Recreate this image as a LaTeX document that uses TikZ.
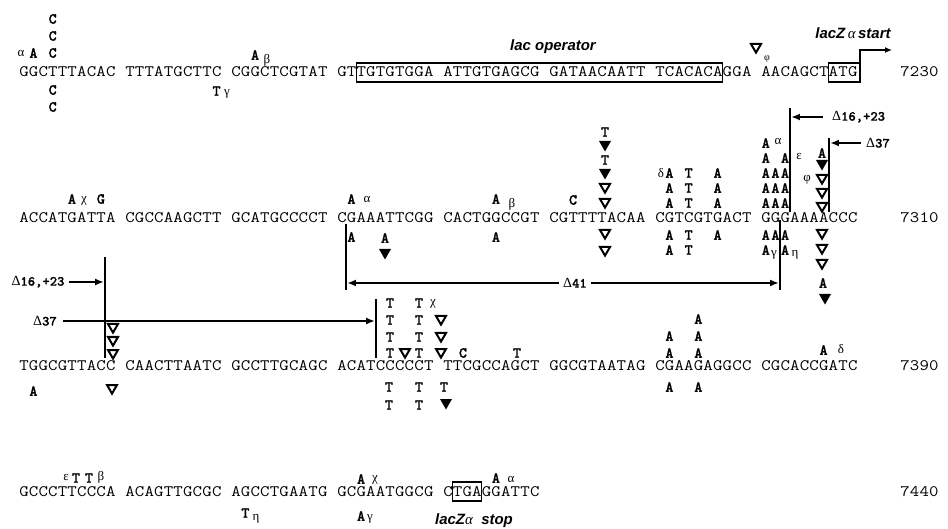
\documentclass[tikz,border=0pt]{standalone}
\usepackage{fontspec}
\usepackage{graphicx}
\setmainfont{Liberation Serif}
\newfontfamily\labf{Liberation Sans}
\newfontface\mutf{lmmonolt10-bold.otf}[FakeBold=1]
\usetikzlibrary{arrows.meta}
\newcounter{mk}
% fixed character grid for the sequences
\newlength\cw \setlength\cw{9.636bp}
\def\gcA#1{\ifx#1\relax\else\gcB{#1}\expandafter\gcA\fi}
\def\gcB#1{\if#1/\hspace*{\cw}\else\makebox[\cw][c]{\scalebox{1.15}[1]{#1}}\fi}
\newcommand\sq[1]{\gcA#1\relax}
\tikzset{
  seq/.style={font=\ttfamily\fontsize{16pt}{18pt}\selectfont, inner sep=0pt, anchor=base west},
  mut/.style={font=\mutf\fontsize{15.5pt}{17pt}\selectfont, inner sep=0pt},
  grk/.style={font=\fontsize{13pt}{15pt}\selectfont, inner sep=0pt},
  lab/.style={font=\labf\bfseries\itshape\fontsize{15pt}{17pt}\selectfont, inner sep=0pt},
  dlab/.style={font=\fontsize{14pt}{16pt}\selectfont, inner sep=0pt},
  otri/.style={draw=black, fill=white, line width=2bp, line join=miter},
  ftri/.style={fill=black},
  bar/.style={line width=1.8bp},
  arr/.style={line width=1.8bp, -{Latex[length=9pt,width=7pt]}},
  box/.style={line width=1.5bp},
}
\newcommand\Mx[3]{\stepcounter{mk}\node[mut] (m\arabic{mk}) at ({#1},{#2}) {#3};}
\newcommand\Mc[3]{\stepcounter{mk}\node[mut] (m\arabic{mk}) at ({23.8+9.636*(#1)},{#2}) {#3};}
\newcommand\Gk[3]{\stepcounter{mk}\node[grk] (g\arabic{mk}) at ({#1},{#2}) {#3};}
\newcommand\ot[2]{\draw[otri] ({#1-5},{#2-4}) -- ({#1+5},{#2-4}) -- ({#1},{#2+4.6}) -- cycle;}
\newcommand\ft[2]{\fill[ftri] ({#1-6},{#2-5}) -- ({#1+6},{#2-5}) -- ({#1},{#2+5.5}) -- cycle;}
\begin{document}
\begin{tikzpicture}[x=1bp,y=-1bp]
\useasboundingbox (0,0) rectangle (948,529);

% ---------------- line 1 ----------------
\node[seq] (L1) at (19,77) {\sq{GGCTTTACAC/TTTATGCTTC/CGGCTCGTAT/GTTGTGTGGA/ATTGTGAGCG/GATAACAATT/TCACACAGGA/AACAGCTATG}};
\node[seq] (N1) at (900,77) {\sq{7230}};
\Mc{3}{19}{C} \Mc{3}{36}{C} \Mc{3}{53}{C}
\Mc{1}{53}{A} \Gk{21}{54}{α}
\Mc{3}{90}{C} \Mc{3}{107}{C}
\Mc{24}{55}{A} \Gk{267}{60}{β}
\Mc{20}{91}{T} \Gk{227}{94}{γ}
\ot{756}{48} \node[grk,font=\fontsize{10pt}{12pt}\selectfont] (phi1) at (767,59) {φ};
\draw[box] (356.3,63) rectangle (722.4,82);
\node[lab] (op) at (553,47) {lac operator};
\draw[box] (828.4,63) rectangle (860,82);
\coordinate (st) at (892,50);
\draw[line width=1.2bp, -{Latex[length=7pt,width=6pt]}] (860,63) |- (st);
\node[lab] (zs) at (853,33) {lacZ\,{\normalfont\itshape α}\,start};

% ---------------- line 2 ----------------
\node[seq] (L2) at (19,223) {\sq{ACCATGATTA/CGCCAAGCTT/GCATGCCCCT/CGAAATTCGG/CACTGGCCGT/CGTTTTACAA/CGTCGTGACT/GGGAAAACCC}};
\node[seq] (N2) at (900,223) {\sq{7310}};
\Mc{5}{199}{A} \Gk{84}{201}{χ}
\Mc{8}{199}{G}
\Mc{34}{199}{A} \Gk{367}{200}{α}
\Mc{34}{237}{A}
\Mx{385}{238}{A} \ft{385}{254}
\Mc{49}{199}{A} \Gk{512}{204}{β}
\Mc{49}{237}{A}
\Mc{57}{200}{C}
\Mx{605}{132}{T} \ft{605}{146} \Mx{605}{160}{T} \ft{605}{174}
\ot{605}{188} \ot{605}{203} \ot{605}{234} \ot{605}{251}
% CGTCGTGACT
\Gk{661}{173}{δ}
\Mc{67}{173}{A} \Mc{69}{173}{T} \Mc{72}{173}{A}
\Mc{67}{188}{A} \Mc{69}{188}{T} \Mc{72}{188}{A}
\Mc{67}{203}{A} \Mc{69}{203}{T} \Mc{72}{203}{A}
\Mc{67}{235}{A} \Mc{69}{235}{T} \Mc{72}{235}{A}
\Mc{67}{250}{A} \Mc{69}{250}{T}
% GGGAAAACCC
\Mc{77}{143}{A} \Gk{778}{142}{α}
\Mc{77}{158}{A} \Mc{79}{158}{A} \Gk{799}{157}{ε}
\Mc{77}{173}{A} \Mc{78}{173}{A} \Mc{79}{173}{A}
\Mc{77}{188}{A} \Mc{78}{188}{A} \Mc{79}{188}{A}
\Mc{77}{203}{A} \Mc{78}{203}{A} \Mc{79}{203}{A}
\Mc{77}{235}{A} \Mc{78}{235}{A} \Mc{79}{235}{A}
\Mc{77}{250}{A} \Gk{774}{255}{γ}
\Mc{79}{250}{A} \Gk{795}{255}{η}
\Mx{822}{153}{A} \ft{822}{165}
\Gk{807}{180}{φ}
\ot{822}{179} \ot{822}{193} \ot{822}{207}
\ot{822}{234} \ot{822}{249} \ot{822}{264}
\Mx{823}{283}{A} \ft{825}{299}
% deletion marks, right
\coordinate (a1) at (790,108); \coordinate (a2) at (790,212);
\draw[bar] (a1) -- (a2);
\node[dlab, anchor=west] (d16r) at (832,117) {Δ{\mutf 16,+23}};
\draw[arr] (d16r.west) ++(-9,0) -- (791,117);
\coordinate (b1) at (829,138); \coordinate (b2) at (829,212);
\draw[bar] (b1) -- (b2);
\node[dlab, anchor=west] (d37r) at (866,143) {Δ{\mutf 37}};
\draw[arr] (d37r.west) ++(-5,0) -- (830,143);
% delta 41
\coordinate (c1) at (346,224); \coordinate (c2) at (346,290);
\coordinate (e1) at (780,220); \coordinate (e2) at (780,290);
\draw[bar] (c1) -- (c2);
\draw[bar] (e1) -- (e2);
\draw[line width=1.8bp, {Latex[length=9pt,width=7pt]}-{Latex[length=9pt,width=7pt]}] (347,283) -- (779,283);
\node[dlab, fill=white, inner xsep=4pt] (d41) at (575,283) {Δ{\mutf 41}};

% ---------------- line 3 ----------------
\node[dlab] (d16l) at (38,282) {Δ{\mutf 16,+23}};
\coordinate (f1) at (105,257); \coordinate (f2) at (105,358);
\draw[bar] (f1) -- (f2);
\draw[arr] (d16l.east) ++(4,0) -- (104,282);
\node[dlab] (d37l) at (45,321) {Δ{\mutf 37}};
\coordinate (h1) at (376,299); \coordinate (h2) at (376,358);
\draw[bar] (h1) -- (h2);
\draw[arr] (d37l.east) ++(6,0) -- (375,321);

\node[seq] (L3) at (19,371) {\sq{TGGCGTTACC/CAACTTAATC/GCCTTGCAGC/ACATCCCCCT/TTCGCCAGCT/GGCGTAATAG/CGAAGAGGCC/CGCACCGATC}};
\node[seq] (N3) at (900,371) {\sq{7390}};
\ot{113}{328} \ot{113}{341} \ot{113}{354} \ot{112}{389}
\Mc{1}{391}{A}
\Mx{390}{303}{T} \Mx{390}{320}{T} \Mx{390}{337}{T} \Mx{390}{353}{T}
\Mx{419}{303}{T} \Mx{419}{320}{T} \Mx{419}{337}{T} \Mx{419}{353}{T}
\Gk{433}{304}{χ}
\ot{405}{353}
\ot{441}{320} \ot{441}{337} \ot{441}{353}
\Mx{463}{353}{C}
\Mx{517}{353}{T}
\Mx{389}{387}{T} \Mx{419}{387}{T} \Mx{444}{387}{T}
\Mx{389}{405}{T} \Mx{419}{405}{T} \ft{446}{404}
\Mc{67}{353}{A} \Mc{67}{336}{A}
\Mc{70}{353}{A} \Mc{70}{336}{A} \Mc{70}{319}{A}
\Mc{67}{387}{A} \Mc{70}{387}{A}
\Mc{83}{350}{A} \Gk{841}{349}{δ}

% ---------------- line 4 ----------------
\node[seq] (L4) at (19,496) {\sq{GCCCTTCCCA/ACAGTTGCGC/AGCCTGAATG/GCGAATGGCG/CTGAGGATTC}};
\node[seq] (N4) at (900,496) {\sq{7440}};
\Gk{66}{478}{ε} \Mx{76}{478}{T} \Mx{89}{478}{T} \Gk{101}{477}{β}
\Mc{23}{513}{T} \Gk{256}{519}{η}
\Mc{35}{479}{A} \Gk{375}{480}{χ}
\Mc{35}{516}{A} \Gk{370}{519}{γ}
\Mc{49}{478}{A} \Gk{511}{480}{α}
\draw[box] (452.6,482) rectangle (481.5,501);
\node[lab] (zstop) at (474,521) {lacZ{\normalfont\itshape α}\ \ stop};
\end{tikzpicture}
\end{document}
